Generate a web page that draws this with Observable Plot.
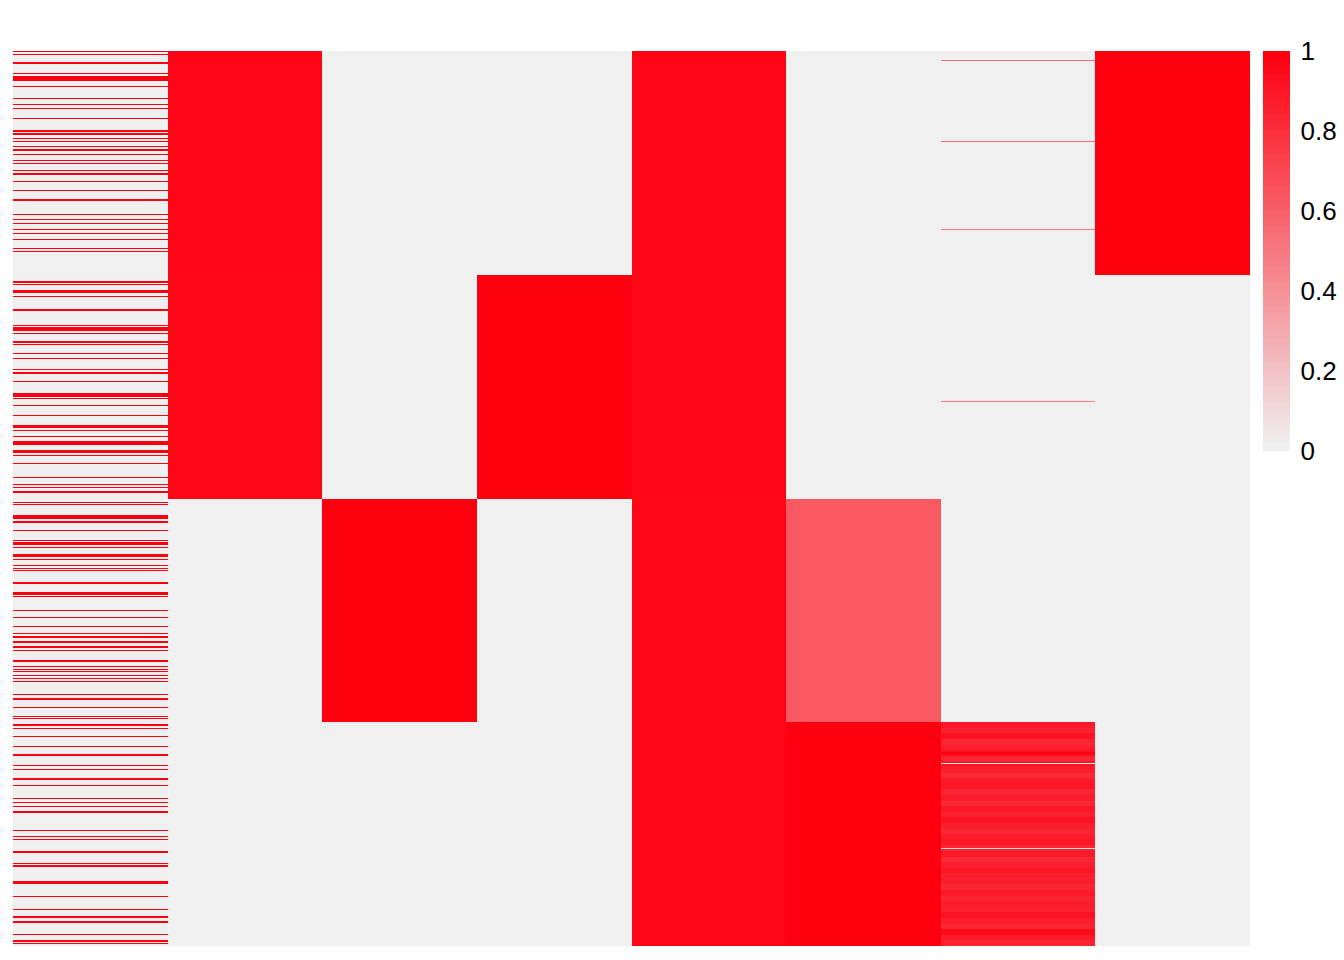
<!DOCTYPE html>
<html><head><meta charset="utf-8">
<script src="https://cdn.jsdelivr.net/npm/d3@7"></script>
<script src="https://cdn.jsdelivr.net/npm/@observablehq/plot@0.6"></script>
<style>
body{margin:0;background:#fff;font-family:"Liberation Sans",Arial,sans-serif}
#wrap{position:relative;width:1344px;height:960px;overflow:hidden}
#main{position:absolute;left:0;top:0}
#legend{position:absolute;left:1250px;top:0}
</style></head><body><div id="wrap"><div id="main"></div><div id="legend"></div></div>
<script>
// ---- data ----
const columns = ["V1","V2","V3","V4","V5","V6","V7","V8"];
const groupSizes = [200, 200, 200, 200];

// column V1: binary, rows that are 1
const col1Ones = [0,3,10,11,20,22,23,24,25,26,31,42,47,51,60,71,73,74,78,80,85,88,92,97,100,106,109,110,116,124,132,133,146,150,154,159,163,168,176,179,
  206,208,214,215,219,231,245,247,248,249,252,259,260,262,270,274,284,287,288,295,306,307,308,310,316,325,334,335,336,339,344,349,350,351,357,358,361,368,381,387,390,393,394,
  403,405,415,416,417,420,421,428,437,439,440,441,443,450,451,454,459,462,464,475,484,485,487,500,506,514,520,523,524,527,528,532,533,535,544,545,550,552,554,558,560,563,575,578,579,586,594,596,
  602,605,612,621,628,629,638,642,650,651,656,668,671,675,679,680,696,702,704,715,716,726,728,742,743,744,755,767,773,774,778,789,795,797];

// block levels per column and row group (estimated)
const blockLevels = {
  V2: [0.98, 0.97, 0, 0],
  V3: [0, 0, 1, 0],
  V4: [0, 1, 0, 0],
  V5: [0.98, 0.98, 0.97, 0.97],
  V6: [0, 0, 0.63, 1],
  V7: [0, 0, 0, null],
  V8: [1, 0, 0, 0]
};
// column V7, group 4: values per 5-row band (estimated)
const col7Group4 = [0.9,0.86,0.92,0.84,0.88,0.93,0.85,0.9,0.87,0.82,
                    0.89,0.91,0.85,0.88,0.83,0.9,0.86,0.92,0.87,0.84,
                    0.88,0.9,0.85,0.89,0.83,0.87,0.91,0.86,0.88,0.84,
                    0.9,0.85,0.88,0.86,0.92,0.87,0.84,0.96,0.89,0.86];
// isolated rows in V7
const col7Rows = [8, 80, 159, 313, 627, 636, 712];
const col7RowValues = [0.55, 0.55, 0.5, 0.5, 1, 0.05, 0.1];

const colorLow = "#F0F0F0";
const colorHigh = "#FD0010";
const legendTicks = [0, 0.2, 0.4, 0.6, 0.8, 1];

// ---- build table ----
const nRows = d3.sum(groupSizes);
const groupStarts = d3.cumsum([0, ...groupSizes]);
const ones = new Set(col1Ones);
const cells = [];
for (let r = 0; r < nRows; r++) {
  const g = d3.bisectRight(groupStarts, r) - 1;
  for (const c of columns) {
    let v;
    if (c === "V1") v = ones.has(r) ? 1 : 0;
    else if (c === "V7" && blockLevels.V7[g] === null) v = col7Group4[Math.floor((r - groupStarts[g]) / 5)];
    else v = blockLevels[c][g];
    if (c === "V7") {
      const k = col7Rows.indexOf(r);
      if (k >= 0) v = col7RowValues[k];
    }
    cells.push({row: r, col: c, value: v});
  }
}

const color = {type: "linear", domain: [0, 1], range: [colorLow, colorHigh], interpolate: "rgb"};

const main = Plot.plot({
  width: 1260, height: 960,
  marginTop: 51, marginBottom: 14, marginLeft: 13, marginRight: 10,
  style: {background: "transparent"},
  x: {domain: columns, axis: null, padding: 0, round: false},
  y: {domain: d3.range(nRows), axis: null, padding: 0, round: false},
  color,
  marks: [
    Plot.cell(cells, {x: "col", y: "row", fill: "value", shapeRendering: "crispEdges"})
  ]
});
document.getElementById("main").appendChild(main);

// legend (vertical color bar)
const nSteps = 50;
const steps = d3.range(nSteps).map(i => ({y1: i / nSteps, y2: (i + 1) / nSteps, v: i / (nSteps - 1)}));
const legend = Plot.plot({
  width: 94, height: 960,
  marginTop: 51, marginBottom: 509, marginLeft: 13, marginRight: 54,
  style: {background: "transparent", fontFamily: "'Liberation Sans', Arial, sans-serif"},
  x: {domain: [0, 1], axis: null},
  y: {domain: [0, 1], axis: null},
  color,
  marks: [
    Plot.rect(steps, {x1: 0, x2: 1, y1: "y1", y2: "y2", fill: "v", shapeRendering: "crispEdges"}),
    Plot.axisY(legendTicks, {anchor: "right", tickSize: 0, tickPadding: 10, fontSize: 26, tickFormat: d3.format("~g"), fill: "#000"})
  ]
});
document.getElementById("legend").appendChild(legend);
</script>
</body></html>
